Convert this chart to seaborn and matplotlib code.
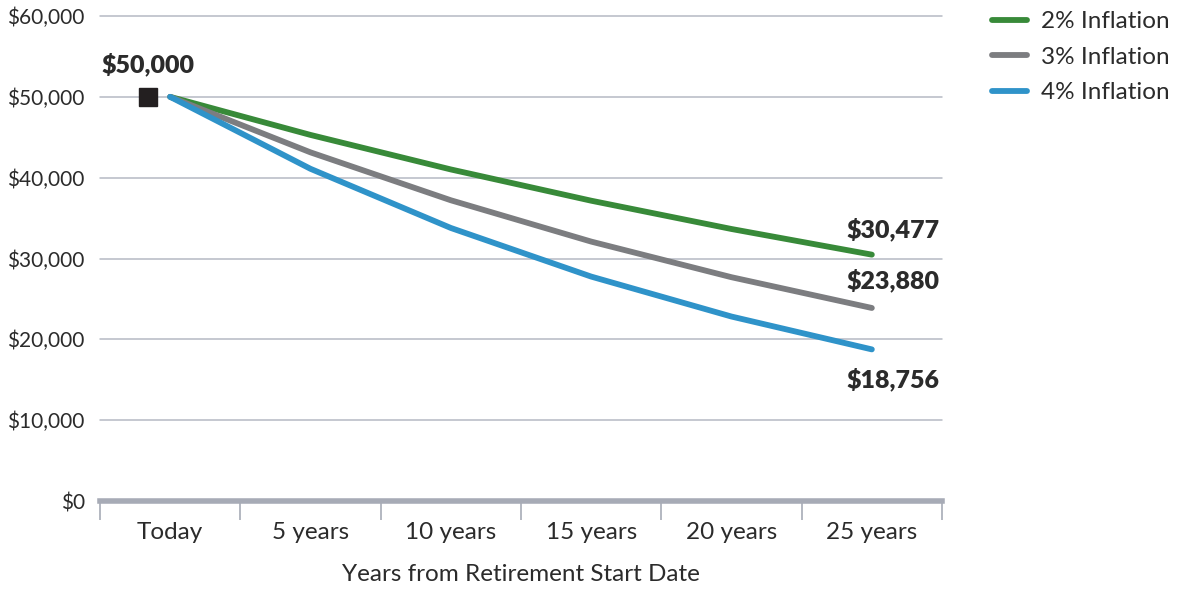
import matplotlib
matplotlib.use("Agg")
import matplotlib.pyplot as plt
import matplotlib.transforms as mtransforms
from matplotlib.ticker import FuncFormatter, FixedLocator
import pandas as pd
import seaborn as sns

# Purchasing power of $50,000 over time
periods = ["Today", "5 years", "10 years", "15 years", "20 years", "25 years"]
inflation_2 = [50000, 45287, 41017, 37151, 33649, 30477]
inflation_3 = [50000, 43130, 37205, 32093, 27684, 23880]
inflation_4 = [50000, 41096, 33778, 27763, 22819, 18756]
series_names = ["2% Inflation", "3% Inflation", "4% Inflation"]
start_value = 50000

colors = ["#388a39", "#7c7d80", "#2f93c9"]

sns.set_theme(style="white")
plt.rcParams["font.family"] = ["Lato", "DejaVu Sans"]

rows = []
for name, vals in zip(series_names, [inflation_2, inflation_3, inflation_4]):
    for i, (p, v) in enumerate(zip(periods, vals)):
        rows.append({"pos": i, "period": p, "value": v, "series": name})
df = pd.DataFrame(rows)

fig = plt.figure(figsize=(11.84, 5.89), dpi=100)
ax = fig.add_axes([100 / 1184, 1 - 501 / 589, 842 / 1184, 485 / 589])

text_color = "#2b2b2b"
grid_color = "#b5b9c3"

# horizontal gridlines
for y in range(10000, 60001, 10000):
    ax.axhline(y, color=grid_color, lw=1.1, zorder=0, clip_on=False)

sns.lineplot(data=df, x="pos", y="value", hue="series", palette=colors,
             linewidth=4.2, ax=ax, legend=True, solid_capstyle="round",
             zorder=3)

ax.set_xlim(-0.5, len(periods) - 0.5)
ax.set_ylim(0, 60000)

for s in ["top", "right", "left"]:
    ax.spines[s].set_visible(False)
ax.spines["bottom"].set_color("#a7abb6")
ax.spines["bottom"].set_linewidth(4)
ax.spines["bottom"].set_zorder(1)

# category labels at centers, separators at boundaries
ax.xaxis.set_major_locator(FixedLocator(range(len(periods))))
ax.set_xticklabels(periods)
ax.xaxis.set_minor_locator(FixedLocator([i - 0.5 for i in range(len(periods) + 1)]))
ax.tick_params(axis="x", which="major", length=0, pad=15, labelsize=17.5,
               labelcolor=text_color)
ax.tick_params(axis="x", which="minor", length=14, width=1.2, color="#a7abb6",
               direction="out", bottom=True)

ax.yaxis.set_major_locator(FixedLocator(range(0, 60001, 10000)))
ax.yaxis.set_major_formatter(FuncFormatter(lambda v, _: f"${v:,.0f}"))
ax.tick_params(axis="y", length=0, pad=11, labelsize=15, labelcolor=text_color)

ax.set_xlabel("Years from Retirement Start Date", fontsize=17.5, color=text_color,
              labelpad=15)
ax.set_ylabel("")

# starting value marker, set just left of the line start
offset = mtransforms.ScaledTranslation(-22 / 100, 0, fig.dpi_scale_trans)
ax.plot([0], [start_value], marker="s", markersize=12.5, color="#231f20",
        transform=ax.transData + offset, zorder=4, clip_on=False)
ax.annotate(f"${start_value:,.0f}", xy=(0, start_value), xytext=(-16, 23),
            textcoords="offset points", ha="center", va="center",
            fontsize=18, fontweight="heavy", color=text_color)

# end-value labels
last = len(periods) - 1
label_offsets = [(49, 18), (49, 20), (49, -22)]
for vals, (dx, dy) in zip([inflation_2, inflation_3, inflation_4], label_offsets):
    ax.annotate(f"${vals[-1]:,.0f}", xy=(last, vals[-1]), xytext=(dx, dy),
                textcoords="offset points", ha="right", va="center",
                fontsize=18, fontweight="heavy", color=text_color)

leg = ax.legend(loc="upper left", bbox_to_anchor=(1.048, 1.03), frameon=False,
                fontsize=17.5, handlelength=1.45, handletextpad=0.55,
                labelspacing=0.6, borderaxespad=0)
for t in leg.get_texts():
    t.set_color(text_color)
for h in leg.get_lines():
    h.set_linewidth(4.2)
    h.set_solid_capstyle("round")

fig.savefig("out.png", dpi=100)
